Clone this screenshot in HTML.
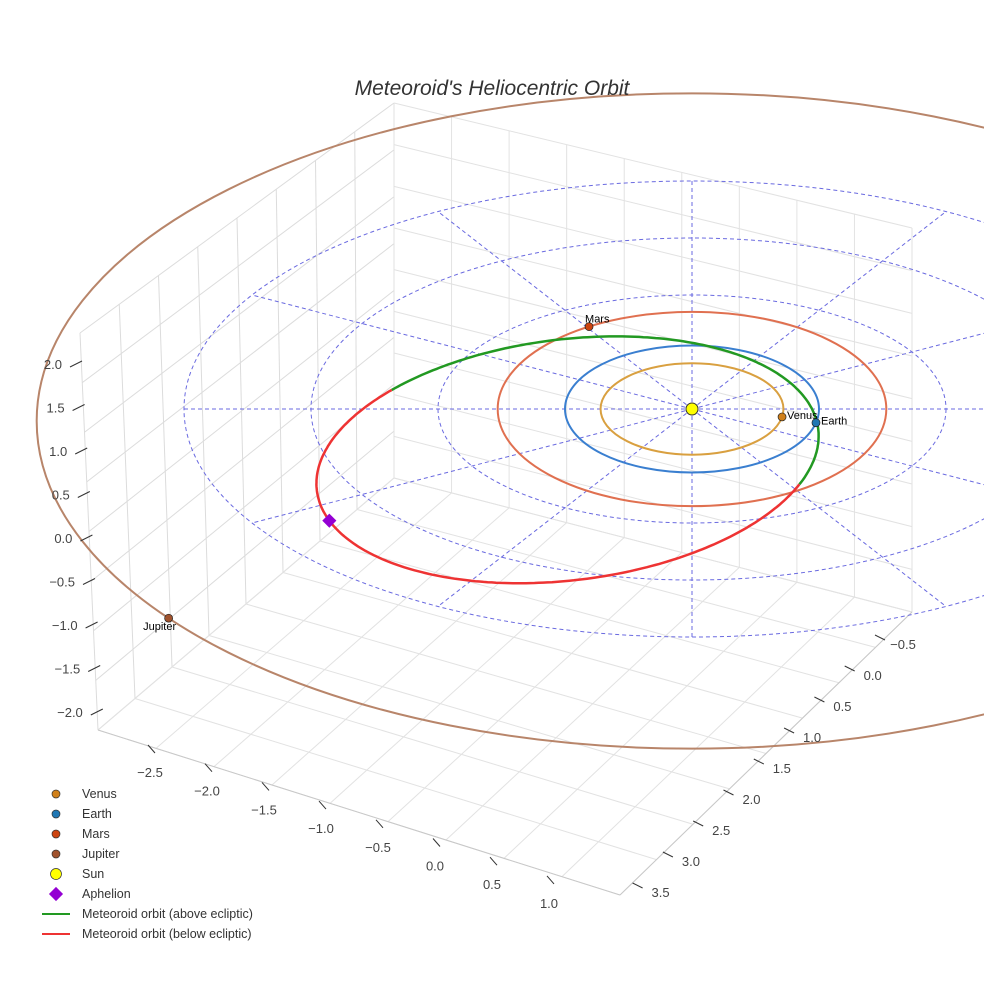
<!DOCTYPE html>
<html><head><meta charset="utf-8"><style>
body{margin:0;background:#fff}
svg{display:block;font-family:"Liberation Sans",sans-serif}
</style></head><body>
<svg id="c" width="984" height="984" viewBox="0 0 984 984">
<g id="grid"></g><g id="ecl"></g><g id="orb"></g><g id="pts"></g><g id="ticks"></g><g id="leg"></g>
<text x="492" y="95" text-anchor="middle" font-size="21" font-style="italic" fill="#333">Meteoroid's Heliocentric Orbit</text>
</svg>
<script>
const NS="http://www.w3.org/2000/svg";
// Data
const planetNames=["Venus","Earth","Mars","Jupiter"];
const planetRadiusAU=[0.72,1.0,1.53,5.16];
const planetAngleDeg=[-10,-12.5,122,217];
const planetOrbitColors=["#d9a040","#3a7fd0","#e07050","#b8856a"];
const planetDotColors=["#d0801a","#1f77b4","#cc4411","#a0522d"];
const eclipticRingsAU=[2,3,4];
const radialAnglesDeg=[0,30,60,90,120,150,180,210,240,270,300,330];
const zTicks=["2.0","1.5","1.0","0.5","0.0","−0.5","−1.0","−1.5","−2.0"];
const xTicks=["−2.5","−2.0","−1.5","−1.0","−0.5","0.0","0.5","1.0"];
const yTicks=["−0.5","0.0","0.5","1.0","1.5","2.0","2.5","3.0","3.5"];
const meteoroidCenter=[-0.98,-0.80];
const meteoroidAxes=[1.96,1.94];
const meteoroidSkew=[0.26,0.12];
const greenRangeDeg=[-15,142];
const aphelionDeg=206;
// projection
const CX=692,CY=409,K=127,KY=63.5,RING_KY=57;
function px(X){return CX+K*X}
function py(Y){return CY-KY*Y}
function el(tag,attrs,parent,name,inter){const e=document.createElementNS(NS,tag);for(const k in attrs)e.setAttribute(k,attrs[k]);


parent.appendChild(e);return e}
const g=id=>document.getElementById(id);
function lerp(a,b,t){return [a[0]+(b[0]-a[0])*t,a[1]+(b[1]-a[1])*t]}
function L(p,q,c,name){el('line',{x1:p[0],y1:p[1],x2:q[0],y2:q[1],stroke:c,"stroke-width":1},g('grid'),name,false)}
// box corners
const B=[394,103],Bb=[394,478],LT=[80,333],LB=[98,730],RT=[912,228],RB=[912,612],F=[620,895];
for(let i=0;i<=8;i++){const t=i/8;
 L(lerp(LT,B,t),lerp(LB,Bb,t),"#dcdcdc",'left-wall-grid');
 L(lerp(LT,LB,t),lerp(B,Bb,t),"#dcdcdc",'left-wall-grid');
}
for(let i=0;i<=9;i++){const t=i/9;
 L(lerp(B,RT,t),lerp(Bb,RB,t),"#e2e2e2",'right-wall-grid');
 L(lerp(B,Bb,t),lerp(RT,RB,t),"#e2e2e2",'right-wall-grid');
}
for(let i=0;i<=8;i++){const t=i/8;
 L(lerp(LB,Bb,t),lerp(F,RB,t),"#e2e2e2",'floor-grid');
}
for(let i=0;i<=9;i++){const t=i/9;
 L(lerp(Bb,RB,t),lerp(LB,F,t),"#e2e2e2",'floor-grid');
}
L(LB,F,"#c8c8c8",'x-axis-line');L(F,RB,"#c8c8c8",'y-axis-line');
// ecliptic dashed
const ecl=g('ecl');
eclipticRingsAU.forEach(r=>el('ellipse',{cx:CX,cy:CY,rx:K*r,ry:RING_KY*r,fill:"none",stroke:"#6a6ae0","stroke-dasharray":"4,3","stroke-width":1},ecl,'ecliptic-ring',false));
const Rmax=eclipticRingsAU[eclipticRingsAU.length-1];
radialAnglesDeg.forEach(a=>{const t=a*Math.PI/180;el('line',{x1:CX,y1:CY,x2:CX+K*Rmax*Math.cos(t),y2:CY-RING_KY*Rmax*Math.sin(t),stroke:"#6a6ae0","stroke-dasharray":"4,3"},ecl,'ecliptic-radial',false)});
// planet orbits
const orb=g('orb');
planetRadiusAU.forEach((r,i)=>el('ellipse',{cx:CX,cy:CY+(i===3?12:0),rx:K*r,ry:KY*r,fill:"none",stroke:planetOrbitColors[i],"stroke-width":2},orb,planetNames[i].toLowerCase()+'-orbit',false));
function mpt(d){const t=d*Math.PI/180;
 const X=meteoroidCenter[0]+meteoroidAxes[0]*Math.cos(t)+meteoroidSkew[0]*Math.sin(t);
 const Y=meteoroidCenter[1]+meteoroidAxes[1]*Math.sin(t)+meteoroidSkew[1]*Math.cos(t);
 return [px(X),py(Y)]}
function arc(a0,a1){let s="";for(let d=a0;d<=a1;d+=1){const p=mpt(d);s+=(s?"L":"M")+p[0].toFixed(1)+","+p[1].toFixed(1)}return s}
el('path',{d:arc(greenRangeDeg[0],greenRangeDeg[1]),fill:"none",stroke:"#229922","stroke-width":2.5},orb,'meteoroid-orbit-above',false);
el('path',{d:arc(greenRangeDeg[1],greenRangeDeg[0]+360),fill:"none",stroke:"#ee3333","stroke-width":2.5},orb,'meteoroid-orbit-below',false);
// points
const pts=g('pts');
planetNames.forEach((n,i)=>{const t=planetAngleDeg[i]*Math.PI/180,r=planetRadiusAU[i];const x=px(r*Math.cos(t)),y=CY+(i===3?12:0)-KY*r*Math.sin(t);
 el('circle',{cx:x,cy:y,r:4,fill:planetDotColors[i],stroke:"#222","stroke-width":0.7},pts,n.toLowerCase()+'-marker',true);
 const tx=el('text',{x:n==="Mars"?x-4:(n==="Jupiter"?x-9:x+5),y:n==="Mars"?y-4:(n==="Jupiter"?y+12:y+2),"font-size":11,fill:"#000","text-anchor":n==="Jupiter"?"middle":"start"},pts,n.toLowerCase()+'-label',false);tx.textContent=n;});
el('circle',{cx:CX,cy:CY,r:6,fill:"#ffff00",stroke:"#333"},pts,'sun-marker',true);
const ap=mpt(aphelionDeg);
el('rect',{x:ap[0]-5,y:ap[1]-5,width:10,height:10,fill:"#9400d3",transform:`rotate(45 ${ap[0]} ${ap[1]})`},pts,'aphelion-marker',true);
// ticks
const tk=g('ticks');
zTicks.forEach((s,i)=>{const y=364+i*43.5;const x=52+i*2.6;const t=el('text',{x:x+10,y:y+5,"font-size":13,fill:"#444","text-anchor":"end"},tk,'z-tick-label',false);t.textContent=s;
 el('line',{x1:x+18,y1:y+3,x2:x+30,y2:y-3,stroke:"#333"},tk,'z-tick',false)});
xTicks.forEach((s,i)=>{const x=145+i*57,y=777+i*18.7;const t=el('text',{x:x+5,y:y,"font-size":13,fill:"#444","text-anchor":"middle"},tk,'x-tick-label',false);t.textContent=s;
 el('line',{x1:x+3,y1:y-32,x2:x+10,y2:y-24,stroke:"#333"},tk,'x-tick',false)});
yTicks.forEach((s,i)=>{const x=903-i*30.3,y=649+i*31;const t=el('text',{x:x,y:y,"font-size":13,fill:"#444","text-anchor":"middle"},tk,'y-tick-label',false);t.textContent=s;
 el('line',{x1:x-28,y1:y-14,x2:x-18,y2:y-9,stroke:"#333"},tk,'y-tick',false)});
// legend
const lg=g('leg');
const legLabels=["Venus","Earth","Mars","Jupiter","Sun","Aphelion","Meteoroid orbit (above ecliptic)","Meteoroid orbit (below ecliptic)"];
const legColors=["#d0801a","#1f77b4","#cc4411","#a0522d","#ffff00","#9400d3","#229922","#ee3333"];
legLabels.forEach((s,i)=>{const y=794+i*20;
 if(i<5)el('circle',{cx:56,cy:y,r:i===4?5.5:4,fill:legColors[i],stroke:"#333","stroke-width":0.7},lg,'legend-marker',true);
 else if(i===5)el('rect',{x:51,y:y-5,width:10,height:10,fill:legColors[i],transform:`rotate(45 56 ${y})`},lg,'legend-marker',true);
 else el('line',{x1:42,y1:y,x2:70,y2:y,stroke:legColors[i],"stroke-width":2},lg,'legend-line',true);
 const t=el('text',{x:82,y:y+4,"font-size":12.5,fill:"#333"},lg,'legend-entry',true);t.textContent=s;});
</script>
</body></html>
